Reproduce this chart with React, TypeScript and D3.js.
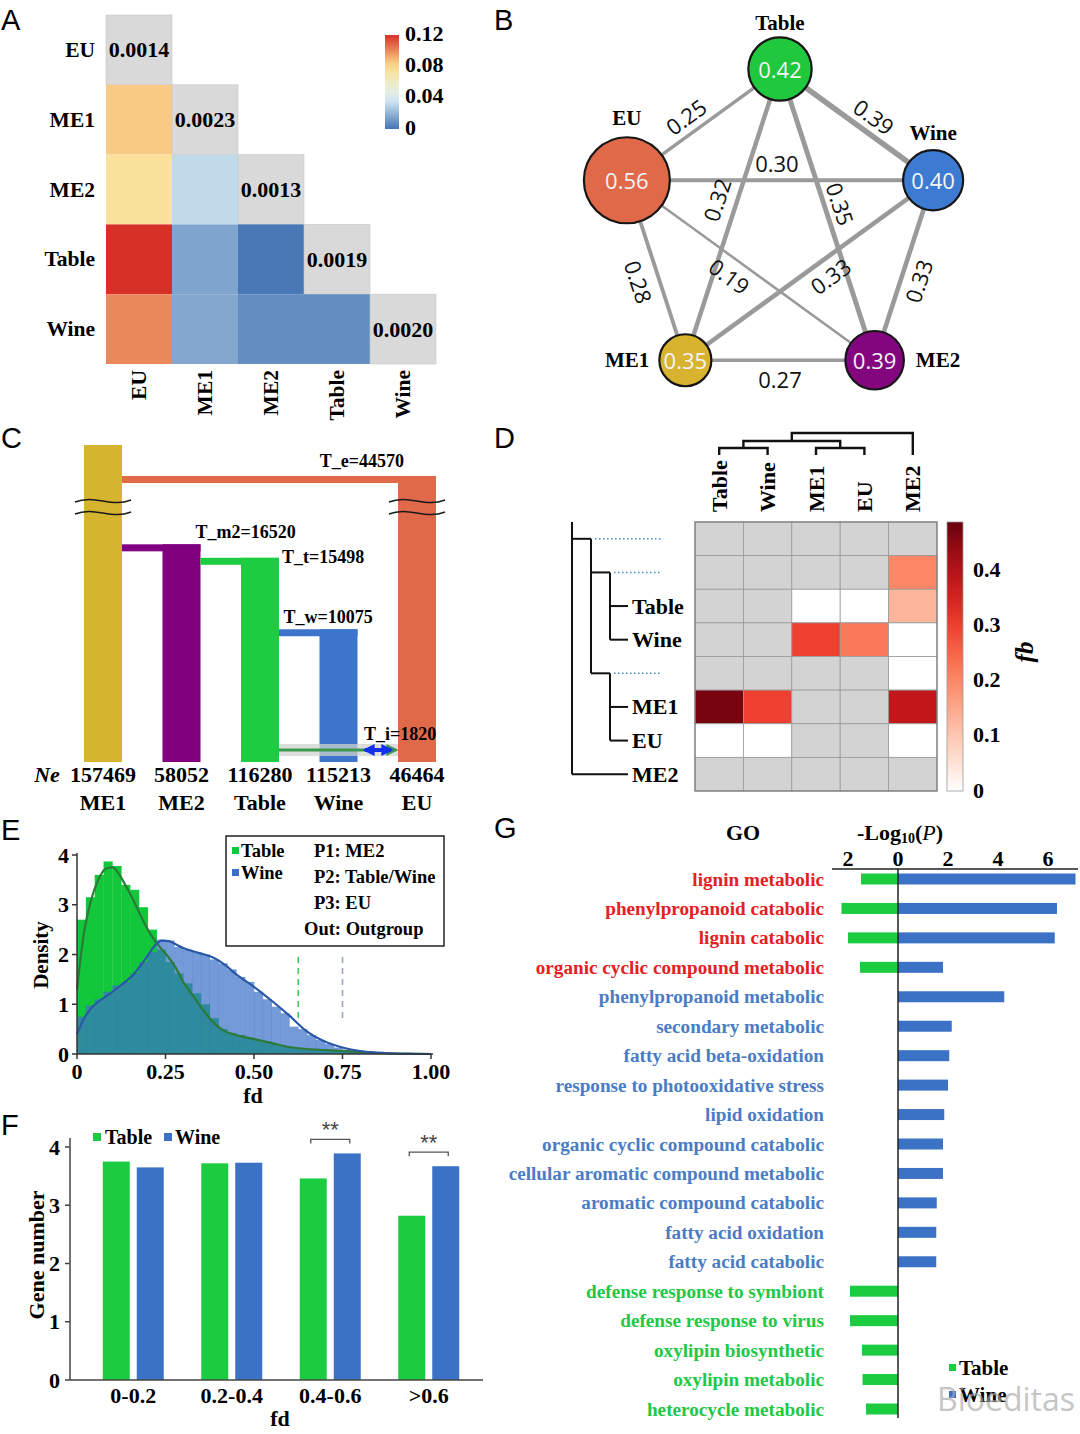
import React from "react";
import * as d3 from "d3";

const SERIF = "'Liberation Serif','Times New Roman',Times,serif";
const SANS = "'Liberation Sans',Arial,Helvetica,sans-serif";
const OPEN = "'Open Sans','Noto Sans','DejaVu Sans',sans-serif";

// ---------------- Panel A data ----------------
const popsA = ["EU", "ME1", "ME2", "Table", "Wine"];
const piA = [0.0014, 0.0023, 0.0013, 0.0019, 0.002];
const fstA: number[][] = [
  [],
  [0.085],
  [0.075, 0.032],
  [0.12, 0.015, 0.001],
  [0.1, 0.016, 0.008, 0.008],
];
const legendTicksA = [0, 0.04, 0.08, 0.12];

// ---------------- Panel B data ----------------
const popsB = ["Table", "Wine", "ME2", "ME1", "EU"];
const valB = [0.42, 0.4, 0.39, 0.35, 0.56];
const colorB = ["#1fc83c", "#3d7bd2", "#84067f", "#d7b32f", "#e0694a"];
const edgeFromB = ["EU", "Table", "EU", "Table", "Table", "EU", "EU", "Wine", "Wine", "ME1"];
const edgeToB = ["Table", "Wine", "Wine", "ME1", "ME2", "ME1", "ME2", "ME1", "ME2", "ME2"];
const edgeValB = [0.25, 0.39, 0.3, 0.32, 0.35, 0.28, 0.19, 0.33, 0.33, 0.27];

// ---------------- Panel C data ----------------
const popsC = ["ME1", "ME2", "Table", "Wine", "EU"];
const neC = [157469, 58052, 116280, 115213, 46464];
const colorC = ["#d5b430", "#800080", "#1dcc41", "#3d75cc", "#e0694a"];
const splitChildC = ["EU", "ME2", "Table", "Wine"];
const splitParentC = ["ME1", "ME1", "ME2", "Table"];
const splitTimeC = [44570, 16520, 15498, 10075];
const splitNameC = ["T_e", "T_m2", "T_t", "T_w"];
const tIC = 1820;

// ---------------- Panel D data ----------------
const colsD = ["Table", "Wine", "ME1", "EU", "ME2"];
const rowKeysD = ["n1", "n2", "Table", "Wine", "n3", "ME1", "EU", "ME2"];
const fbD: (number | null)[][] = [
  [null, null, null, null, null],
  [null, null, null, null, 0.2],
  [null, null, 0, 0, 0.13],
  [null, null, 0.3, 0.22, 0],
  [null, null, null, null, 0],
  [0.47, 0.3, null, null, 0.38],
  [0, 0, null, null, 0],
  [null, null, null, null, null],
];
const fbTicksD = [0, 0.1, 0.2, 0.3, 0.4];

// ---------------- Panel E data ----------------
const binStartE = d3.range(0, 40).map((i) => i * 0.025);
const histTableE = [2.7, 3.15, 3.6, 3.87, 3.78, 3.4, 3.3, 2.95, 2.5, 2.1, 1.85, 1.62, 1.42, 1.22, 1.0, 0.72, 0.5, 0.42, 0.38, 0.33, 0.28, 0.25, 0.2, 0.14, 0.12, 0.1, 0.09, 0.08, 0.07, 0.06, 0.05, 0.04, 0.03, 0.02, 0.02, 0.01, 0.01, 0.005, 0.003, 0.002];
const histWineE = [0.75, 0.98, 1.1, 1.25, 1.38, 1.45, 1.62, 1.85, 2.05, 2.3, 2.28, 2.15, 2.1, 2.05, 2.0, 1.9, 1.82, 1.7, 1.55, 1.45, 1.25, 1.1, 0.95, 0.82, 0.55, 0.5, 0.38, 0.28, 0.2, 0.13, 0.09, 0.06, 0.04, 0.03, 0.02, 0.01, 0.01, 0.005, 0.003, 0.002];
const curveXE = [0, 0.02, 0.04, 0.06, 0.08, 0.1, 0.12, 0.14, 0.16, 0.18, 0.2, 0.22, 0.24, 0.26, 0.28, 0.3, 0.33, 0.36, 0.39, 0.42, 0.45, 0.5, 0.55, 0.6, 0.65, 0.7, 0.75, 0.8, 0.85, 0.9, 0.95, 1.0];
const curveTableE = [1.3, 2.45, 3.1, 3.5, 3.72, 3.75, 3.6, 3.35, 3.08, 2.78, 2.5, 2.28, 2.1, 1.93, 1.72, 1.45, 1.15, 0.85, 0.6, 0.45, 0.38, 0.3, 0.22, 0.14, 0.1, 0.08, 0.06, 0.04, 0.02, 0.01, 0.005, 0];
const curveWineE = [0.4, 0.72, 0.92, 1.05, 1.15, 1.25, 1.36, 1.47, 1.6, 1.78, 1.98, 2.18, 2.28, 2.27, 2.2, 2.13, 2.06, 2.0, 1.92, 1.78, 1.6, 1.35, 1.07, 0.77, 0.45, 0.25, 0.13, 0.06, 0.03, 0.01, 0.004, 0];
const thresholdE = [0.625, 0.75];
const xTicksE = [0, 0.25, 0.5, 0.75, 1];
const xTickLabelsE = ["0", "0.25", "0.50", "0.75", "1.00"];
const yTicksE = [0, 1, 2, 3, 4];
const legendTextE = ["P1: ME2", "P2: Table/Wine", "P3: EU", "Out: Outgroup"];

// ---------------- Panel F data ----------------
const binsF = ["0-0.2", "0.2-0.4", "0.4-0.6", ">0.6"];
const tableF = [3.75, 3.72, 3.46, 2.82];
const wineF = [3.65, 3.73, 3.89, 3.67];
const sigF = ["", "", "**", "**"];
const yTicksF = [0, 1, 2, 3, 4];

// ---------------- Panel G data ----------------
const termsG = [
  "lignin metabolic",
  "phenylpropanoid catabolic",
  "lignin catabolic",
  "organic cyclic compound metabolic",
  "phenylpropanoid metabolic",
  "secondary metabolic",
  "fatty acid beta-oxidation",
  "response to photooxidative stress",
  "lipid oxidation",
  "organic cyclic compound catabolic",
  "cellular aromatic compound metabolic",
  "aromatic compound catabolic",
  "fatty acid oxidation",
  "fatty acid catabolic",
  "defense response to symbiont",
  "defense response to virus",
  "oxylipin biosynthetic",
  "oxylipin metabolic",
  "heterocycle metabolic",
];
const tableG = [1.48, 2.26, 2.0, 1.52, 0, 0, 0, 0, 0, 0, 0, 0, 0, 0, 1.92, 1.92, 1.44, 1.42, 1.28];
const wineG = [7.1, 6.36, 6.27, 1.8, 4.25, 2.15, 2.05, 2.0, 1.85, 1.8, 1.8, 1.55, 1.53, 1.53, 0, 0, 0, 0, 0];
const groupG = ["both", "both", "both", "both", "wine", "wine", "wine", "wine", "wine", "wine", "wine", "wine", "wine", "wine", "table", "table", "table", "table", "table"];
const xTicksG = [-2, 0, 2, 4, 6];

const GREEN = "#1ccc40";
const BLUE = "#3b72c6";

// ================= Panel A =================
function PanelA() {
  const xA = d3.scaleBand<string>().domain(popsA).range([106, 436]);
  const yA = d3.scaleBand<string>().domain(popsA).range([15, 364]);
  const colA = d3
    .scaleLinear<string>()
    .domain([0, 0.04, 0.08, 0.12])
    .range(["#4575b4", "#e0f3f8", "#fee090", "#d73027"])
    .clamp(true);
  const legY = d3.scaleLinear().domain([0, 0.12]).range([127, 33]);
  const bw = xA.bandwidth();
  const bh = yA.bandwidth();
  const stops = d3.range(0, 1.001, 0.1);
  return (
    <g>
      <defs>
        <linearGradient id="gradA" x1="0" y1="0" x2="0" y2="1">
          {stops.map((t) => (
            <stop key={t} offset={t} stopColor={colA(0.12 * (1 - t))} />
          ))}
        </linearGradient>
      </defs>
      <text x={1} y={30} fontFamily={SANS} fontSize={29}>A</text>
      {popsA.map((r, i) =>
        popsA.slice(0, i + 1).map((c, j) => {
          const diag = i === j;
          return (
            <rect
              key={r + c}
              x={xA(c)}
              y={yA(r)}
              width={bw}
              height={bh}
              fill={diag ? "#d9d9d9" : colA(fstA[i][j])}
              stroke={diag ? "#c6c6c6" : "none"}
              strokeWidth={0.6}
            />
          );
        })
      )}
      {popsA.map((r, i) => (
        <text key={"d" + r} x={xA(r)! + bw / 2} y={yA(r)! + bh / 2} textAnchor="middle" dominantBaseline="central" fontWeight="bold" fontSize={22}>
          {piA[i].toFixed(4)}
        </text>
      ))}
      {popsA.map((r) => (
        <text key={"r" + r} x={95} y={yA(r)! + bh / 2} textAnchor="end" dominantBaseline="central" fontWeight="bold" fontSize={21.5}>
          {r}
        </text>
      ))}
      {popsA.map((c) => (
        <text key={"c" + c} transform={`translate(${xA(c)! + bw / 2},370) rotate(-90)`} textAnchor="end" dominantBaseline="central" fontWeight="bold" fontSize={21.5}>
          {c}
        </text>
      ))}
      <rect x={385} y={legY(0.12) + 2} width={14} height={legY(0) - legY(0.12)} fill="url(#gradA)" />
      {legendTicksA.map((v) => (
        <text key={v} x={405} y={legY(v)} dominantBaseline="central" fontWeight="bold" fontSize={22}>
          {v === 0 ? "0" : v.toFixed(2)}
        </text>
      ))}
    </g>
  );
}

// ================= Panel B =================
function PanelB() {
  const cx = 780, cy = 230, R = 161;
  const ang = d3.scaleLinear().domain([0, popsB.length]).range([-Math.PI / 2, 1.5 * Math.PI]);
  const pos: Record<string, [number, number]> = {};
  popsB.forEach((p, i) => {
    pos[p] = [cx + R * Math.cos(ang(i)), cy + R * Math.sin(ang(i))];
  });
  const rScale = d3.scaleLinear().domain([0.35, 0.56]).range([26, 43]);
  const wScale = d3.scaleLinear().domain([0.19, 0.39]).range([2.5, 5.5]);
  const labT = [0.45, 0.55, 0.49, 0.47, 0.48, 0.53, 0.455, 0.455, 0.53, 0.5];
  const labOff = [-17, -17, -17, -20, -16, 20, 17, 17, 17, 19];
  const labelSide = ["top", "top", "right", "left", "top"];
  const labelGap = [14, 17, 12, 10, 19];
  return (
    <g>
      <text x={494} y={30} fontFamily={SANS} fontSize={29}>B</text>
      {edgeValB.map((v, k) => {
        const a = pos[edgeFromB[k]];
        const b = pos[edgeToB[k]];
        return <line key={"e" + k} x1={a[0]} y1={a[1]} x2={b[0]} y2={b[1]} stroke="#9a9a9a" strokeWidth={wScale(v)} />;
      })}
      {edgeValB.map((v, k) => {
        const a = pos[edgeFromB[k]];
        const b = pos[edgeToB[k]];
        let dx = b[0] - a[0], dy = b[1] - a[1];
        if (dx < 0) { dx = -dx; dy = -dy; }
        const len = Math.hypot(dx, dy);
        const ux = dx / len, uy = dy / len;
        const nx = -uy, ny = ux;
        const px = a[0] + (b[0] - a[0]) * labT[k] + nx * labOff[k];
        const py = a[1] + (b[1] - a[1]) * labT[k] + ny * labOff[k];
        const deg = (Math.atan2(uy, ux) * 180) / Math.PI;
        return (
          <text key={"l" + k} transform={`translate(${px},${py}) rotate(${deg})`} textAnchor="middle" dominantBaseline="central" fontFamily={OPEN} fontSize={22} fill="#111">
            {v.toFixed(2)}
          </text>
        );
      })}
      {popsB.map((p, i) => {
        const [x, y] = pos[p];
        const r = rScale(valB[i]);
        let lx = x, ly = y, anchor = "middle";
        if (labelSide[i] === "top") { ly = y - r - labelGap[i]; }
        else if (labelSide[i] === "left") { lx = x - r - labelGap[i]; anchor = "end"; }
        else { lx = x + r + labelGap[i]; anchor = "start"; }
        return (
          <g key={p}>
            <circle cx={x} cy={y} r={r} fill={colorB[i]} stroke="#161616" strokeWidth={2.2} />
            <text x={x} y={y} textAnchor="middle" dominantBaseline="central" fontFamily={OPEN} fontSize={22} fill="#f4f4f4">
              {valB[i].toFixed(2)}
            </text>
            <text x={lx} y={ly} textAnchor={anchor} dominantBaseline="central" fontWeight="bold" fontSize={21}>
              {p}
            </text>
          </g>
        );
      })}
    </g>
  );
}

// ================= Panel C =================
function PanelC() {
  const xC = d3.scalePoint<string>().domain(popsC).range([103, 417]);
  const yC = d3.scaleLinear().domain([0, 17000, 44570, 52000]).range([762, 538, 476, 445]);
  const half = 19;
  const thick = 7;
  const col = (p: string) => colorC[popsC.indexOf(p)];
  const breakMid = (yC(17000) + yC(44570)) / 2;
  const wave = (c: number, y: number) => {
    const x0 = c - 28, x1 = c + 28;
    return `M ${x0} ${y + 1} C ${x0 + 20} ${y - 7}, ${x1 - 20} ${y + 7}, ${x1} ${y - 1}`;
  };
  const labDx = [-55, 14, 22, -55];
  const labDy = [-9, -6, 5, -6];
  const labAnchor = ["middle", "start", "start", "start"];
  const yI = yC(tIC / 2);
  const tableRight = xC("Table")! + half;
  const euLeft = xC("EU")! - half;
  return (
    <g>
      <defs>
        <marker id="arrG" viewBox="0 0 10 10" refX="8" refY="5" markerWidth="4" markerHeight="4" orient="auto">
          <path d="M0,0 L10,5 L0,10 z" fill="#3c9a4c" />
        </marker>
        <marker id="arrB" viewBox="0 0 10 10" refX="8" refY="5" markerWidth="3" markerHeight="3" orient="auto-start-reverse">
          <path d="M0,0 L10,5 L0,10 z" fill="#1330ee" />
        </marker>
      </defs>
      <text x={1} y={448} fontFamily={SANS} fontSize={29}>C</text>
      <rect x={xC("ME1")! - half} y={yC(52000)} width={half * 2} height={yC(0) - yC(52000)} fill={col("ME1")} />
      {splitChildC.map((c, k) => {
        const p = splitParentC[k];
        const t = splitTimeC[k];
        return (
          <g key={c}>
            <rect x={xC(p)! + half} y={yC(t)} width={xC(c)! - xC(p)!} height={thick} fill={col(c)} />
            <rect x={xC(c)! - half} y={yC(t)} width={half * 2} height={yC(0) - yC(t)} fill={col(c)} />
            <text x={xC(c)! + labDx[k]} y={yC(t) + labDy[k]} textAnchor={labAnchor[k]} fontWeight="bold" fontSize={18}>
              {`${splitNameC[k]}=${t}`}
            </text>
          </g>
        );
      })}
      {["ME1", "EU"].map((p) => (
        <g key={"br" + p}>
          <path d={wave(xC(p)!, breakMid - 6)} fill="none" stroke="#1a1a1a" strokeWidth={1.6} />
          <path d={wave(xC(p)!, breakMid + 6)} fill="none" stroke="#1a1a1a" strokeWidth={1.6} />
        </g>
      ))}
      <rect x={tableRight} y={yI - 6} width={euLeft - tableRight} height={12} fill="#cfd3cf" opacity={0.75} />
      <line x1={tableRight} y1={yI} x2={euLeft - 2} y2={yI} stroke="#3c9a4c" strokeWidth={3} markerEnd="url(#arrG)" />
      <line x1={euLeft - 33} y1={yI} x2={euLeft - 7} y2={yI} stroke="#1330ee" strokeWidth={4} markerStart="url(#arrB)" markerEnd="url(#arrB)" />
      <text x={euLeft - 34} y={yC(tIC) + 2} fontWeight="bold" fontSize={18}>{`T_i=${tIC}`}</text>
      <text x={47} y={782} textAnchor="middle" fontWeight="bold" fontStyle="italic" fontSize={22}>Ne</text>
      {popsC.map((p, i) => (
        <g key={"n" + p}>
          <text x={xC(p)} y={782} textAnchor="middle" fontWeight="bold" fontSize={22}>{neC[i]}</text>
          <text x={xC(p)} y={810} textAnchor="middle" fontWeight="bold" fontSize={22}>{p}</text>
        </g>
      ))}
    </g>
  );
}

// ================= Panel D =================
function PanelD() {
  const xD = d3.scaleBand<string>().domain(colsD).range([695, 937]);
  const yD = d3.scaleBand<string>().domain(rowKeysD).range([522, 791]);
  const fbMax = 0.487;
  const colD = (v: number) => (v <= 0.001 ? "#ffffff" : d3.interpolateReds(v / fbMax));
  const barY = d3.scaleLinear().domain([0, fbMax]).range([790, 522]);
  const bw = xD.bandwidth(), bh = yD.bandwidth();
  const yc = (k: string) => yD(k)! + bh / 2;
  const xc = (c: string) => xD(c)! + bw / 2;
  const parentD: Record<string, string> = { n1: "root", n2: "n1", n3: "n1", Table: "n2", Wine: "n2", ME1: "n3", EU: "n3", ME2: "root" };
  const depthX: Record<string, number> = { root: 572, n1: 591, n2: 610, n3: 610 };
  const leafEnd = 628, dotEnd = 662;
  const internal = ["root", "n1", "n2", "n3"];
  const treeLines: JSX.Element[] = [];
  internal.forEach((n) => {
    const kids = Object.keys(parentD).filter((k) => parentD[k] === n);
    const ownY = n === "root" ? 522 : yc(n);
    const ys = kids.map(yc).concat([ownY]);
    treeLines.push(<line key={"v" + n} x1={depthX[n]} x2={depthX[n]} y1={Math.min(...ys)} y2={Math.max(...ys)} />);
    kids.forEach((k) => {
      const x2 = depthX[k] !== undefined ? depthX[k] : leafEnd;
      treeLines.push(<line key={"h" + k} x1={depthX[n]} x2={x2} y1={yc(k)} y2={yc(k)} />);
    });
  });
  const topNodes = [
    { id: "TW", a: "Table", b: "Wine", h: 448 },
    { id: "ME", a: "ME1", b: "EU", h: 448 },
    { id: "TWME", a: "TW", b: "ME", h: 441 },
    { id: "ALL", a: "TWME", b: "ME2", h: 433 },
  ];
  const topX: Record<string, number> = {};
  const topH: Record<string, number> = {};
  colsD.forEach((c) => { topX[c] = xc(c); topH[c] = 455; });
  topNodes.forEach((n) => { topX[n.id] = (topX[n.a] + topX[n.b]) / 2; topH[n.id] = n.h; });
  const stops = d3.range(0, 1.001, 0.1);
  return (
    <g>
      <defs>
        <linearGradient id="gradD" x1="0" y1="1" x2="0" y2="0">
          {stops.map((t) => (
            <stop key={t} offset={t} stopColor={t === 0 ? "#ffffff" : d3.interpolateReds(t)} />
          ))}
        </linearGradient>
      </defs>
      <text x={494} y={448} fontFamily={SANS} fontSize={29}>D</text>
      {rowKeysD.map((r, i) =>
        colsD.map((c, j) => {
          const v = fbD[i][j];
          return <rect key={r + c} x={xD(c)} y={yD(r)} width={bw} height={bh} fill={v === null ? "#d3d3d3" : colD(v)} stroke="#9a9a9a" strokeWidth={0.8} />;
        })
      )}
      <rect x={695} y={522} width={242} height={269} fill="none" stroke="#7a7a7a" strokeWidth={1.2} />
      <g stroke="#111" strokeWidth={2}>{treeLines}</g>
      {["n1", "n2", "n3"].map((n) => (
        <line key={"dot" + n} x1={depthX[n] + 4} x2={dotEnd} y1={yc(n)} y2={yc(n)} stroke="#3d8fc4" strokeWidth={1.4} strokeDasharray="1.5 2.5" />
      ))}
      {rowKeysD.filter((r) => !r.startsWith("n")).map((r) => (
        <text key={"rl" + r} x={632} y={yc(r)} dominantBaseline="central" fontWeight="bold" fontSize={22}>{r}</text>
      ))}
      <g stroke="#111" strokeWidth={2.4} fill="none">
        {topNodes.map((n) => (
          <path key={n.id} d={`M${topX[n.a]},${topH[n.a]} V${n.h} H${topX[n.b]} V${topH[n.b]}`} />
        ))}
      </g>
      {colsD.map((c) => (
        <text key={"cl" + c} transform={`translate(${xc(c)},512) rotate(-90)`} dominantBaseline="central" fontWeight="bold" fontSize={22}>{c}</text>
      ))}
      <rect x={947} y={522} width={16} height={269} fill="url(#gradD)" stroke="#999" strokeWidth={0.8} />
      {fbTicksD.map((v) => (
        <text key={"t" + v} x={973} y={barY(v)} dominantBaseline="central" fontWeight="bold" fontSize={22}>{v === 0 ? "0" : v.toFixed(1)}</text>
      ))}
      <text transform="translate(1024,652) rotate(-90)" textAnchor="middle" dominantBaseline="central" fontWeight="bold" fontStyle="italic" fontSize={25}>fb</text>
    </g>
  );
}

// ================= Panel E =================
function PanelE() {
  const xE = d3.scaleLinear().domain([0, 1]).range([77, 431]);
  const yE = d3.scaleLinear().domain([0, 4]).range([1054, 855]);
  const binW = 0.025;
  const line = d3
    .line<number>()
    .x((_, i) => xE(curveXE[i]))
    .y((d) => yE(d))
    .curve(d3.curveMonotoneX);
  return (
    <g>
      <text x={1} y={840} fontFamily={SANS} fontSize={29}>E</text>
      {binStartE.map((b, i) => (
        <rect key={"gt" + i} x={xE(b)} y={yE(histTableE[i])} width={xE(b + binW) - xE(b) + 0.3} height={yE(0) - yE(histTableE[i])} fill="#12c83a" />
      ))}
      {binStartE.map((b, i) => (
        <rect key={"bw" + i} x={xE(b)} y={yE(histWineE[i])} width={xE(b + binW) - xE(b) + 0.3} height={yE(0) - yE(histWineE[i])} fill="#3a6fc8" opacity={0.7} />
      ))}
      <path d={line(curveTableE) || ""} fill="none" stroke="#2b7a3a" strokeWidth={2.2} />
      <path d={line(curveWineE) || ""} fill="none" stroke="#2a58a6" strokeWidth={2.2} />
      {thresholdE.map((t, i) => (
        <line key={"th" + i} x1={xE(t)} x2={xE(t)} y1={yE(1.95)} y2={yE(0.68)} stroke={i === 0 ? "#3fcc5c" : "#95a8cc"} strokeWidth={1.6} strokeDasharray="6 5" />
      ))}
      <line x1={xE(0)} x2={xE(1) + 2} y1={yE(0)} y2={yE(0)} stroke="#333" strokeWidth={1.5} />
      <line x1={xE(0)} x2={xE(0)} y1={yE(0)} y2={yE(4) - 2} stroke="#333" strokeWidth={1.5} />
      {xTicksE.map((t, i) => (
        <g key={"xt" + t}>
          <line x1={xE(t)} x2={xE(t)} y1={yE(0)} y2={yE(0) + 5} stroke="#333" strokeWidth={1.5} />
          <text x={xE(t)} y={1071} textAnchor="middle" dominantBaseline="central" fontWeight="bold" fontSize={22}>{xTickLabelsE[i]}</text>
        </g>
      ))}
      {yTicksE.map((t) => (
        <g key={"yt" + t}>
          <line x1={xE(0) - 5} x2={xE(0)} y1={yE(t)} y2={yE(t)} stroke="#333" strokeWidth={1.5} />
          <text x={69} y={yE(t)} textAnchor="end" dominantBaseline="central" fontWeight="bold" fontSize={22}>{t}</text>
        </g>
      ))}
      <text transform="translate(41,955) rotate(-90)" textAnchor="middle" dominantBaseline="central" fontWeight="bold" fontSize={21}>Density</text>
      <text x={253} y={1095} textAnchor="middle" dominantBaseline="central" fontWeight="bold" fontSize={22}>fd</text>
      <rect x={226} y={836} width={218} height={110} fill="#fff" stroke="#222" strokeWidth={1.5} />
      <rect x={232} y={847} width={7} height={7} fill="#12c83a" />
      <text x={241} y={851} dominantBaseline="central" fontWeight="bold" fontSize={18.5}>Table</text>
      <rect x={232} y={869} width={7} height={7} fill="#3a6fc8" />
      <text x={241} y={873} dominantBaseline="central" fontWeight="bold" fontSize={18.5}>Wine</text>
      {legendTextE.map((t, i) => (
        <text key={t} x={i === 3 ? 304 : 314} y={851 + i * 26} dominantBaseline="central" fontWeight="bold" fontSize={18.5}>{t}</text>
      ))}
    </g>
  );
}

// ================= Panel F =================
function PanelF() {
  const xF = d3.scaleBand<string>().domain(binsF).range([84, 478]);
  const yF = d3.scaleLinear().domain([0, 4]).range([1380, 1147]);
  const sub = d3.scaleBand<string>().domain(["Table", "Wine"]).range([-30.5, 30.5]).paddingInner(7 / 34);
  return (
    <g>
      <text x={1} y={1135} fontFamily={SANS} fontSize={29}>F</text>
      {binsF.map((b, i) => {
        const c = xF(b)! + xF.bandwidth() / 2;
        const xt = c + sub("Table")!;
        const xw = c + sub("Wine")!;
        const top = Math.max(tableF[i], wineF[i]);
        const by = yF(top) - 14;
        return (
          <g key={b}>
            <rect x={xt} y={yF(tableF[i])} width={sub.bandwidth()} height={yF(0) - yF(tableF[i])} fill={GREEN} />
            <rect x={xw} y={yF(wineF[i])} width={sub.bandwidth()} height={yF(0) - yF(wineF[i])} fill={BLUE} />
            <text x={c} y={1395} textAnchor="middle" dominantBaseline="central" fontWeight="bold" fontSize={22}>{b}</text>
            {sigF[i] && (
              <g>
                <path d={`M${xt + 11},${by + 4} V${by} H${xw + 16} V${by + 4}`} fill="none" stroke="#555" strokeWidth={1.3} />
                <text x={(xt + xw + 27) / 2} y={by - 2} textAnchor="middle" fontSize={22} fill="#444" fontFamily={SANS}>{sigF[i]}</text>
              </g>
            )}
          </g>
        );
      })}
      <line x1={70} x2={483} y1={yF(0)} y2={yF(0)} stroke="#444" strokeWidth={1.5} />
      <line x1={70} x2={70} y1={yF(0)} y2={1138} stroke="#444" strokeWidth={1.5} />
      {yTicksF.map((t) => (
        <g key={t}>
          <line x1={65} x2={70} y1={yF(t)} y2={yF(t)} stroke="#444" strokeWidth={1.5} />
          <text x={60} y={yF(t)} textAnchor="end" dominantBaseline="central" fontWeight="bold" fontSize={22}>{t}</text>
        </g>
      ))}
      <text transform="translate(36,1255) rotate(-90)" textAnchor="middle" dominantBaseline="central" fontWeight="bold" fontSize={22}>Gene number</text>
      <text x={280} y={1418} textAnchor="middle" dominantBaseline="central" fontWeight="bold" fontSize={22}>fd</text>
      <rect x={93} y={1133} width={8} height={8} fill={GREEN} />
      <text x={105} y={1137} dominantBaseline="central" fontWeight="bold" fontSize={20}>Table</text>
      <rect x={164} y={1133} width={8} height={8} fill={BLUE} />
      <text x={175} y={1137} dominantBaseline="central" fontWeight="bold" fontSize={20}>Wine</text>
    </g>
  );
}

// ================= Panel G =================
function PanelG() {
  const xG = d3.scaleLinear().domain([-2.64, 7.2]).range([832, 1078]);
  const yG = d3.scalePoint<string>().domain(termsG).range([879, 1409]);
  const txtCol: Record<string, string> = { both: "#e3211f", wine: "#4a7cc6", table: "#22c845" };
  const barH = 11;
  return (
    <g>
      <text x={494} y={838} fontFamily={SANS} fontSize={29}>G</text>
      <text x={743} y={832} textAnchor="middle" dominantBaseline="central" fontWeight="bold" fontSize={22}>GO</text>
      <text x={900} y={832} textAnchor="middle" dominantBaseline="central" fontWeight="bold" fontSize={22}>
        <tspan>-Log</tspan>
        <tspan fontSize={14} dy={6}>10</tspan>
        <tspan dy={-6}>(</tspan>
        <tspan fontStyle="italic" fontWeight="normal">P</tspan>
        <tspan>)</tspan>
      </text>
      {xTicksG.map((t) => (
        <text key={t} x={xG(t)} y={858} textAnchor="middle" dominantBaseline="central" fontWeight="bold" fontSize={22}>{Math.abs(t)}</text>
      ))}
      {termsG.map((t, i) => (
        <g key={t}>
          {tableG[i] > 0 && <rect x={xG(-tableG[i])} y={yG(t)! - barH / 2} width={xG(0) - xG(-tableG[i])} height={barH} fill={GREEN} />}
          {wineG[i] > 0 && <rect x={xG(0)} y={yG(t)! - barH / 2} width={xG(wineG[i]) - xG(0)} height={barH} fill={BLUE} />}
          <text x={824} y={yG(t)} textAnchor="end" dominantBaseline="central" fontWeight="bold" fontSize={19.2} fill={txtCol[groupG[i]]}>{t}</text>
        </g>
      ))}
      <line x1={832} x2={1078} y1={869} y2={869} stroke="#222" strokeWidth={1.5} />
      <line x1={xG(0)} x2={xG(0)} y1={869} y2={1418} stroke="#222" strokeWidth={1.5} />
      <rect x={949} y={1364} width={7} height={7} fill={GREEN} />
      <text x={959} y={1368} dominantBaseline="central" fontWeight="bold" fontSize={21}>Table</text>
      <rect x={949} y={1391} width={7} height={7} fill={BLUE} />
      <text x={959} y={1395} dominantBaseline="central" fontWeight="bold" fontSize={21}>Wine</text>
      <text x={1006} y={1398} textAnchor="middle" dominantBaseline="central" fontFamily={OPEN} fontSize={32} fill="#a8a8a8" opacity={0.65}>Bioeditas</text>
    </g>
  );
}

export default function App() {
  return (
    <svg
      width={1080}
      height={1434}
      viewBox="0 0 1080 1434"
      style={{ position: "absolute", left: 0, top: 0, display: "block", background: "#fff" }}
      fontFamily={SERIF}
    >
      <rect width={1080} height={1434} fill="#fff" />
      <PanelA />
      <PanelB />
      <PanelC />
      <PanelD />
      <PanelE />
      <PanelF />
      <PanelG />
    </svg>
  );
}
